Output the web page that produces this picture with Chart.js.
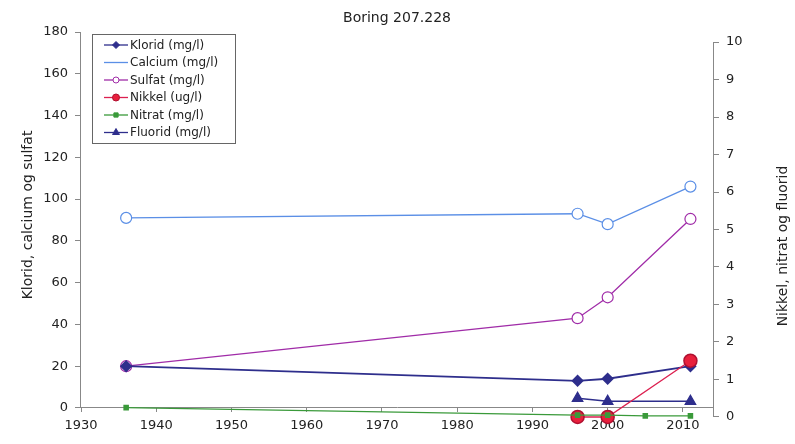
<!DOCTYPE html>
<html><head><meta charset="utf-8">
<script src="https://cdn.jsdelivr.net/npm/chart.js@4"></script>
<style>html,body{margin:0;padding:0;background:#fff}#wrap{width:795px;height:444px}</style>
</head><body><div id="wrap"><canvas id="c" width="795" height="444"></canvas></div>
<script>
const title = 'Boring 207.228';
const leftAxisTitle = 'Klorid, calcium og sulfat';
const rightAxisTitle = 'Nikkel, nitrat og fluorid';
const xTicks = [1930,1940,1950,1960,1970,1980,1990,2000,2010];
const leftTicks = [0,20,40,60,80,100,120,140,160,180];
const rightTicks = [0,1,2,3,4,5,6,7,8,9,10];

const kloridYears = [1936,1996,2000,2011];
const kloridValues = [20,13,14,20];
const calciumYears = [1936,1996,2000,2011];
const calciumValues = [91,93,88,106];
const sulfatYears = [1936,1996,2000,2011];
const sulfatValues = [20,43,53,90.5];
const nikkelYears = [1996,2000,2011];
const nikkelValues = [0,0,1.5];
const nitratYears = [1936,1996,2000,2005,2011];
const nitratValues = [0.25,0.05,0.05,0.03,0.03];
const fluoridYears = [1996,2000,2011];
const fluoridValues = [0.5,0.42,0.42];

const pts = (xs, ys) => xs.map((x,i)=>({x:x,y:ys[i]}));
const FONT = '"DejaVu Sans", Verdana, sans-serif';

const datasets = [
  {label:'Klorid (mg/l)', data:pts(kloridYears,kloridValues), yAxisID:'y', borderColor:'#2e2e8c', backgroundColor:'#2e2e8c', pointStyle:'rectRot', pointRadius:5, borderWidth:1.8, order:3, legendRadius:3.5},
  {label:'Calcium (mg/l)', data:pts(calciumYears,calciumValues), yAxisID:'y', borderColor:'#5b8fe6', backgroundColor:'#ffffff', pointStyle:'circle', pointRadius:5.5, pointBorderWidth:1.2, borderWidth:1.3, order:3, legendRadius:0},
  {label:'Sulfat (mg/l)', data:pts(sulfatYears,sulfatValues), yAxisID:'y', borderColor:'#a02ca8', backgroundColor:'#ffffff', pointStyle:'circle', pointRadius:5.5, pointBorderWidth:1.2, borderWidth:1.3, order:3, legendRadius:3},
  {label:'Nikkel (ug/l)', data:pts(nikkelYears,nikkelValues), yAxisID:'y2', borderColor:'#dc2050', backgroundColor:'#e8203c', pointBorderColor:'#b01030', pointStyle:'circle', pointRadius:6.5, pointBorderWidth:1.5, borderWidth:1.3, order:2, legendRadius:3.5},
  {label:'Nitrat (mg/l)', data:pts(nitratYears,nitratValues), yAxisID:'y2', borderColor:'#3a9a3a', backgroundColor:'#3a9a3a', pointStyle:'rect', pointRadius:3, borderWidth:1.3, order:1, legendRadius:3},
  {label:'Fluorid (mg/l)', data:pts(fluoridYears,fluoridValues), yAxisID:'y2', borderColor:'#2e2e8c', backgroundColor:'#2e2e8c', pointStyle:'triangle', pointRadius:6, borderWidth:1.3, order:3, legendRadius:4}
];
datasets.forEach(d=>{d.fill=false; d.tension=0; d.clip=false; d.showLine=true;});

const decor = {
  id:'decor',
  beforeDatasetsDraw(chart){
    const ctx = chart.ctx;
    const sy = chart.scales.y, sy2 = chart.scales.y2;
    ctx.save();
    ctx.strokeStyle = '#888';
    ctx.lineWidth = 1;
    const xl = Math.round(sy.right) - 0.5;
    ctx.beginPath(); ctx.moveTo(xl, sy.getPixelForValue(leftTicks[leftTicks.length-1])); ctx.lineTo(xl, sy.getPixelForValue(0)); ctx.stroke();
    const xr = Math.round(sy2.left) + 0.5;
    ctx.beginPath(); ctx.moveTo(xr, sy2.getPixelForValue(rightTicks[rightTicks.length-1])); ctx.lineTo(xr, sy2.getPixelForValue(0)); ctx.stroke();
    ctx.restore();
  },
  afterDraw(chart){
    const ctx = chart.ctx;
    ctx.save();
    ctx.fillStyle = '#222';
    ctx.textAlign = 'center';
    ctx.textBaseline = 'middle';
    ctx.font = '14px ' + FONT;
    ctx.fillText(title, 397, 18);
    ctx.save();
    ctx.translate(28, 215);
    ctx.rotate(-Math.PI/2);
    ctx.fillText(leftAxisTitle, 0, 0);
    ctx.restore();
    ctx.save();
    ctx.translate(783, 246);
    ctx.rotate(-Math.PI/2);
    ctx.fillText(rightAxisTitle, 0, 0);
    ctx.restore();
    // legend
    const bx=92, by=34, bw=143, bh=109;
    ctx.fillStyle='#fff';
    ctx.fillRect(bx,by,bw,bh);
    ctx.strokeStyle='#666';
    ctx.lineWidth=1;
    ctx.strokeRect(bx+0.5,by+0.5,bw,bh);
    ctx.font = '12px ' + FONT;
    ctx.textAlign='left';
    chart.data.datasets.forEach((d,i)=>{
      const y = by + 11 + i*17.5;
      ctx.strokeStyle = d.borderColor;
      ctx.lineWidth = 1.3;
      ctx.beginPath(); ctx.moveTo(104,y); ctx.lineTo(128,y); ctx.stroke();
      if (d.legendRadius > 0) {
        ctx.fillStyle = d.backgroundColor;
        ctx.strokeStyle = d.pointBorderColor || d.borderColor;
        ctx.lineWidth = 1;
        Chart.helpers.drawPoint(ctx, {pointStyle:d.pointStyle, radius:d.legendRadius, rotation:0, borderWidth:1}, 116, y);
      }
      ctx.fillStyle='#222';
      ctx.fillText(d.label, 130, y+0.5);
    });
    ctx.restore();
  }
};

new Chart(document.getElementById('c'), {
  type:'line',
  data:{datasets},
  options:{
    responsive:false,
    animation:false,
    layout:{padding:{left:0,right:0,top:32,bottom:26}},
    plugins:{legend:{display:false}, title:{display:false}, tooltip:{enabled:false}},
    scales:{
      x:{type:'linear', min:1930, max:2014, position:{y:0},
        grid:{display:true, drawOnChartArea:false, tickLength:4, color:'#888'},
        border:{color:'#888'},
        afterBuildTicks:s=>{s.ticks = xTicks.map(v=>({value:v}));},
        ticks:{color:'#222', font:{family:FONT,size:13}, padding:6, maxRotation:0, callback:v=>String(v)}},
      y:{type:'linear', position:'left', min:-4.79, max:180,
        afterFit:s=>{s.width=81;},
        afterBuildTicks:s=>{s.ticks = leftTicks.map(v=>({value:v}));},
        grid:{display:true, drawOnChartArea:false, tickLength:6, color:'#888'},
        border:{display:false},
        ticks:{color:'#222', font:{family:FONT,size:13}, padding:7, callback:v=>String(v)}},
      y2:{type:'linear', position:'right', min:-0.027, max:10.267,
        afterFit:s=>{s.width=795-713;},
        afterBuildTicks:s=>{s.ticks = rightTicks.map(v=>({value:v}));},
        grid:{display:true, drawOnChartArea:false, tickLength:6, color:'#888'},
        border:{display:false},
        ticks:{color:'#222', font:{family:FONT,size:13}, padding:7, callback:v=>String(v)}}
    }
  },
  plugins:[decor]
});
</script></body></html>
